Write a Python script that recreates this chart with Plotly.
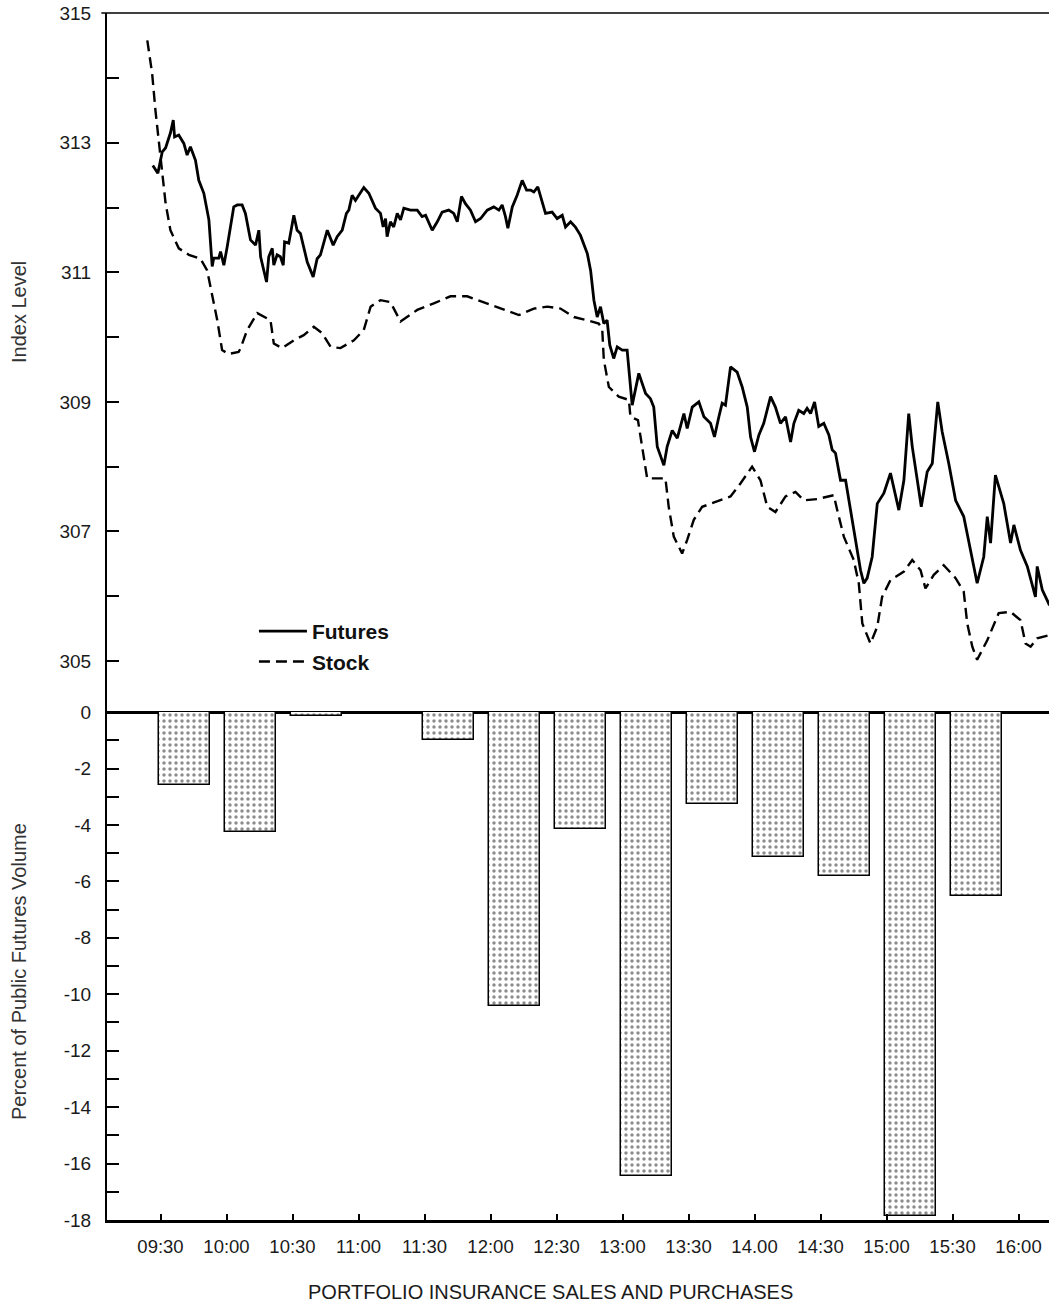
import plotly.graph_objects as go

# ---------------- data ----------------
# time in minutes since midnight (570 = 09:30)
futures_min = [566.5, 568.8, 570.8, 572.3, 574.5, 575.8, 576.4, 578.3, 580.6, 582.1,
               583.6, 585.9, 587.4, 589.7, 592.0, 593.5, 594.2, 596.5, 597.3, 598.8,
               600.3, 603.3, 604.9, 607.1, 608.6, 610.9, 613.2, 614.7, 615.5, 618.2,
               619.2, 620.8, 621.5, 623.0, 624.5, 625.8, 626.4, 628.3, 630.6, 632.1,
               633.6, 635.1, 636.7, 639.4, 641.2, 642.7, 645.8, 648.5, 650.3, 652.6,
               654.5, 655.6, 657.1, 658.6, 660.1, 662.4, 664.7, 667.7, 670.0, 671.2,
               672.3, 673.0, 674.5, 676.0, 677.6, 679.1, 680.6, 683.6, 686.7, 688.9,
               690.5, 693.5, 695.8, 698.0, 701.0, 703.3, 704.9, 706.8, 708.6, 710.9,
               713.2, 715.5, 718.5, 721.5, 723.8, 725.3, 726.8, 727.9, 729.9, 732.1,
               734.4, 736.4, 738.2, 739.7, 741.5, 743.5, 745.0, 748.0, 750.3, 752.6,
               754.1, 756.4, 758.6, 760.9, 764.0, 765.5, 767.0, 768.5, 770.0, 771.5,
               773.0, 774.2, 776.0, 777.6, 779.9, 782.1, 784.4, 787.4, 790.5, 792.7,
               794.2, 795.8, 798.8, 800.3, 802.6, 804.9, 807.9, 809.4, 811.7, 814.7,
               817.0, 820.0, 821.8, 823.8, 825.3, 826.8, 829.1, 832.1, 834.4, 836.7,
               838.2, 840.0, 842.0, 844.2, 847.3, 849.5, 851.8, 854.1, 856.4, 857.9,
               860.1, 862.4, 863.9, 865.5, 867.3, 869.2, 871.5, 873.8, 875.3, 876.8,
               879.1, 881.4, 883.6, 885.9, 888.2, 889.7, 891.2, 893.5, 895.8, 898.8,
               901.8, 905.6, 907.9, 910.1, 911.7, 914.0, 915.8, 918.5, 920.8, 923.3,
               925.3, 928.3, 931.4, 935.1, 938.2, 941.2, 944.2, 945.8, 947.3, 949.5,
               953.3, 956.4, 957.9, 960.9, 964.0, 967.7, 968.5, 970.8, 973.0, 974.1]
futures_val = [312.65, 312.53, 312.86, 312.92, 313.15, 313.35, 313.09, 313.12, 312.99, 312.81,
               312.94, 312.73, 312.42, 312.22, 311.81, 311.09, 311.22, 311.22, 311.32, 311.11,
               311.39, 312.01, 312.04, 312.04, 311.91, 311.50, 311.42, 311.65, 311.24, 310.85,
               311.24, 311.37, 311.11, 311.27, 311.24, 311.11, 311.47, 311.45, 311.88, 311.65,
               311.60, 311.39, 311.16, 310.93, 311.21, 311.27, 311.65, 311.42, 311.55, 311.65,
               311.91, 311.96, 312.19, 312.11, 312.19, 312.31, 312.22, 311.99, 311.91, 311.70,
               311.83, 311.55, 311.78, 311.70, 311.91, 311.81, 311.99, 311.96, 311.96, 311.86,
               311.88, 311.65, 311.78, 311.93, 311.96, 311.91, 311.78, 312.17, 312.06, 311.96,
               311.78, 311.83, 311.96, 312.01, 311.96, 312.04, 311.86, 311.68, 312.01, 312.19,
               312.42, 312.27, 312.27, 312.24, 312.32, 312.06, 311.91, 311.93, 311.83, 311.88,
               311.70, 311.78, 311.70, 311.57, 311.29, 311.03, 310.57, 310.31, 310.47, 310.21,
               310.26, 309.88, 309.67, 309.85, 309.80, 309.80, 308.95, 309.44, 309.13, 309.05,
               308.92, 308.31, 308.02, 308.31, 308.56, 308.44, 308.82, 308.59, 308.92, 309.00,
               308.77, 308.67, 308.46, 308.77, 308.98, 308.95, 309.54, 309.46, 309.23, 308.92,
               308.46, 308.23, 308.49, 308.67, 309.08, 308.92, 308.67, 308.77, 308.38, 308.67,
               308.87, 308.82, 308.90, 308.82, 309.00, 308.62, 308.67, 308.49, 308.26, 308.21,
               307.79, 307.79, 307.33, 306.87, 306.40, 306.20, 306.28, 306.61, 307.43, 307.59,
               307.90, 307.33, 307.79, 308.82, 308.31, 307.79, 307.38, 307.92, 308.05, 309.00,
               308.54, 308.05, 307.48, 307.23, 306.71, 306.20, 306.61, 307.23, 306.82, 307.87,
               307.43, 306.82, 307.10, 306.71, 306.46, 305.99, 306.46, 306.10, 305.94, 305.86]

stock_min = [564.0, 566.2, 567.7, 569.2, 570.8, 572.3, 574.5, 578.3, 582.9, 588.2,
             591.2, 593.5, 595.8, 598.0, 600.9, 605.5, 606.4, 609.4, 614.0, 620.0,
             621.5, 625.3, 630.6, 635.1, 639.7, 643.5, 647.3, 651.8, 657.9, 662.4,
             665.5, 670.0, 674.5, 679.1, 686.7, 694.2, 701.8, 709.4, 717.0, 724.5,
             732.9, 739.7, 745.8, 751.8, 757.9, 764.0, 769.2, 770.8, 771.5, 773.8,
             778.3, 782.9, 783.6, 787.0, 789.0, 791.2, 799.5, 801.0, 803.3, 807.1,
             809.4, 812.4, 816.2, 823.0, 829.1, 833.6, 838.9, 842.7, 845.8, 849.5,
             854.1, 858.6, 862.4, 868.5, 876.0, 877.6, 880.6, 885.1, 887.4, 889.0,
             892.7, 895.8, 898.0, 901.8, 907.9, 911.7, 915.5, 917.7, 921.5, 926.0,
             931.4, 935.1, 936.7, 939.0, 941.2, 945.8, 951.0, 956.4, 960.9, 963.2,
             965.5, 968.5, 973.0, 974.1]
stock_val = [314.58, 314.07, 313.50, 313.04, 312.53, 312.07, 311.65, 311.37, 311.27, 311.21,
             311.03, 310.67, 310.26, 309.80, 309.74, 309.77, 309.83, 310.11, 310.37, 310.26,
             309.90, 309.83, 309.95, 310.03, 310.16, 310.06, 309.85, 309.83, 309.95, 310.11,
             310.47, 310.57, 310.54, 310.24, 310.42, 310.52, 310.63, 310.63, 310.54, 310.44,
             310.34, 310.44, 310.47, 310.44, 310.31, 310.26, 310.21, 310.11, 309.65, 309.23,
             309.08, 309.03, 308.77, 308.72, 308.26, 307.82, 307.82, 307.38, 306.92, 306.66,
             306.87, 307.18, 307.38, 307.46, 307.54, 307.74, 308.00, 307.79, 307.38, 307.30,
             307.54, 307.61, 307.48, 307.50, 307.56, 307.33, 306.92, 306.56, 306.20, 305.58,
             305.27, 305.53, 305.99, 306.25, 306.38, 306.56, 306.40, 306.12, 306.33, 306.48,
             306.28, 306.07, 305.58, 305.22, 305.02, 305.32, 305.74, 305.76, 305.63, 305.27,
             305.22, 305.35, 305.40, 305.40]

bar_periods = ["09:30", "10:00", "10:30", "11:30", "12:00", "12:30", "13:00",
               "13:30", "14:00", "14:30", "15:00", "15:30"]
bar_values = [-2.6, -4.25, -0.15, -1.0, -10.4, -4.15, -16.45,
              -3.25, -5.15, -5.8, -17.85, -6.5]

x_tick_min = [570, 600, 630, 660, 690, 720, 750, 780, 810, 840, 870, 900, 930, 960]
x_tick_text = ["09:30", "10:00", "10:30", "11:00", "11:30", "12:00", "12:30",
               "13:00", "13:30", "14.00", "14:30", "15:00", "15:30", "16:00"]
index_ticks = [305, 307, 309, 311, 313, 315]
index_minor = [306, 308, 310, 312, 314]
pct_ticks = [0, -2, -4, -6, -8, -10, -12, -14, -16, -18]
pct_tick_text = ["0", "-2", "-4", "-6", "-8", "-10", "-12", "-14", "-16", "-18"]
pct_minor = [-1, -3, -5, -7, -9, -11, -13, -15, -17]

# ---------------- figure ----------------
bar_x = [int(p[:2]) * 60 + int(p[3:]) for p in bar_periods]
FONT = "Liberation Sans, Arial, Helvetica, sans-serif"
INK = "#1a1a1a"

fig = go.Figure()
fig.add_trace(go.Scatter(
    x=futures_min, y=futures_val, mode="lines", name="Futures",
    line=dict(color="black", width=2.8), xaxis="x", yaxis="y"))
fig.add_trace(go.Scatter(
    x=stock_min, y=stock_val, mode="lines", name="Stock",
    line=dict(color="black", width=2.4, dash="11px,6px"), xaxis="x", yaxis="y"))
fig.add_trace(go.Bar(
    x=bar_x, y=bar_values, width=23, offset=-0.5, xaxis="x", yaxis="y2",
    showlegend=False,
    marker=dict(color="white", line=dict(color="black", width=1.5),
                pattern=dict(shape=".", fgcolor="#1a1a1a", bgcolor="white",
                             size=6, solidity=0.26))))

split = 508 / 1207

fig.update_layout(
    width=1049, height=1303,
    margin=dict(l=107, r=0, t=13, b=83),
    paper_bgcolor="white", plot_bgcolor="white",
    font=dict(family=FONT, color=INK),
    bargap=0,
    xaxis=dict(range=[545.68, 973.86], anchor="y2",
               tickmode="array", tickvals=x_tick_min, ticktext=x_tick_text,
               ticks="inside", ticklen=6, tickwidth=1.5, tickcolor="black",
               showline=True, linecolor="black", linewidth=2.5,
               showgrid=False, zeroline=False,
               tickfont=dict(size=18.5, color=INK), ticklabelstandoff=8),
    yaxis=dict(domain=[split, 1], range=[304.213, 315.003], anchor="x",
               tickmode="array", tickvals=index_ticks,
               ticks="inside", ticklen=12, tickwidth=1.5, tickcolor="black",
               minor=dict(tickmode="array", tickvals=index_minor, ticks="inside",
                          ticklen=12, tickwidth=1.5, tickcolor="black", showgrid=False),
               showline=True, linecolor="black", linewidth=2,
               showgrid=False, zeroline=False,
               tickfont=dict(size=19, color=INK), ticklabelstandoff=10),
    yaxis2=dict(domain=[0, split], range=[-18.0, 0.004], anchor="x",
                tickmode="array", tickvals=pct_ticks, ticktext=pct_tick_text,
                ticks="inside", ticklen=12, tickwidth=1.5, tickcolor="black",
                minor=dict(tickmode="array", tickvals=pct_minor, ticks="inside",
                           ticklen=12, tickwidth=1.5, tickcolor="black", showgrid=False),
                showline=True, linecolor="black", linewidth=2,
                showgrid=False, zeroline=True, zerolinecolor="black", zerolinewidth=3,
                tickfont=dict(size=19, color=INK), ticklabelstandoff=10),
    legend=dict(x=0.156, y=0.5045, xanchor="left", yanchor="top",
                bgcolor="rgba(0,0,0,0)", itemwidth=48, tracegroupgap=0,
                font=dict(family=FONT, size=21, color="#111111", weight="bold")),
    shapes=[dict(type="line", xref="paper", yref="paper", x0=-0.006, x1=1,
                 y0=1, y1=1, line=dict(color="black", width=1.5))],
    annotations=[
        dict(text="Index Level", xref="paper", yref="paper",
             x=(19 - 107) / 942, y=1 - (312 - 13) / 1207, textangle=-90,
             xanchor="center", yanchor="middle", showarrow=False,
             font=dict(family=FONT, size=20, color="#333333")),
        dict(text="Percent of Public Futures Volume", xref="paper", yref="paper",
             x=(19 - 107) / 942, y=1 - (972 - 13) / 1207, textangle=-90,
             xanchor="center", yanchor="middle", showarrow=False,
             font=dict(family=FONT, size=20, color="#333333")),
        dict(text="PORTFOLIO INSURANCE SALES AND PURCHASES", xref="paper", yref="paper",
             x=(550 - 107) / 942, y=-(1292 - 1220) / 1207,
             xanchor="center", yanchor="middle", showarrow=False,
             font=dict(family=FONT, size=20, color=INK)),
    ],
)

fig.write_html(
    "out.html",
    config={"displayModeBar": False},
    post_script="document.body.style.margin='0';document.body.style.overflow='hidden';",
)
